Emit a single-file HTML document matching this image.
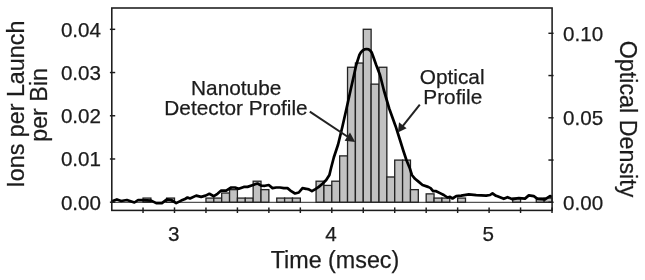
<!DOCTYPE html>
<html><head><meta charset="utf-8"><title>Time of flight profile</title>
<style>
html,body{margin:0;padding:0;background:#fff;}
body{width:645px;height:280px;overflow:hidden;}
svg{display:block;font-family:"Liberation Sans",Arial,Helvetica,sans-serif;fill:#1c1c1c;}
text{stroke:#1c1c1c;stroke-width:0.25px;}
.t20{font-size:20.6px;}
.t23{font-size:23.3px;}
.ann{font-size:20.8px;}
</style></head><body>
<svg width="645" height="280" viewBox="0 0 645 280">
<rect x="0" y="0" width="645" height="280" fill="#ffffff"/>
<g fill="#c2c2c2" stroke="#222" stroke-width="1.3">
<rect x="143.04" y="198.08" width="7.86" height="4.22"/>
<rect x="166.64" y="198.08" width="7.86" height="4.22"/>
<rect x="205.96" y="198.08" width="7.86" height="4.22"/>
<rect x="213.82" y="198.08" width="7.86" height="4.22"/>
<rect x="221.69" y="193.02" width="7.86" height="9.28"/>
<rect x="229.56" y="189.64" width="7.86" height="12.66"/>
<rect x="237.42" y="198.08" width="7.86" height="4.22"/>
<rect x="245.29" y="198.08" width="7.86" height="4.22"/>
<rect x="253.15" y="181.20" width="7.86" height="21.10"/>
<rect x="261.01" y="189.64" width="7.86" height="12.66"/>
<rect x="276.75" y="198.08" width="7.86" height="4.22"/>
<rect x="284.61" y="198.08" width="7.87" height="4.22"/>
<rect x="292.48" y="198.08" width="7.86" height="4.22"/>
<rect x="316.07" y="181.20" width="7.86" height="21.10"/>
<rect x="323.94" y="185.42" width="7.86" height="16.88"/>
<rect x="331.80" y="181.20" width="7.86" height="21.10"/>
<rect x="339.66" y="155.88" width="7.87" height="46.42"/>
<rect x="347.53" y="67.26" width="7.86" height="135.04"/>
<rect x="355.40" y="63.04" width="7.86" height="139.26"/>
<rect x="363.26" y="29.28" width="7.86" height="173.02"/>
<rect x="371.12" y="84.14" width="7.87" height="118.16"/>
<rect x="378.99" y="67.26" width="7.86" height="135.04"/>
<rect x="386.85" y="176.98" width="7.86" height="25.32"/>
<rect x="394.72" y="160.10" width="7.86" height="42.20"/>
<rect x="402.59" y="160.10" width="7.87" height="42.20"/>
<rect x="410.45" y="189.64" width="7.86" height="12.66"/>
<rect x="426.18" y="193.86" width="7.87" height="8.44"/>
<rect x="434.05" y="198.08" width="7.86" height="4.22"/>
<rect x="441.91" y="198.08" width="7.87" height="4.22"/>
<rect x="457.64" y="198.08" width="7.86" height="4.22"/>
<rect x="512.70" y="198.08" width="7.86" height="4.22"/>
<rect x="536.29" y="198.08" width="7.87" height="4.22"/>
<rect x="544.15" y="198.08" width="7.87" height="4.22"/>
</g>
<line x1="111.8" y1="202.3" x2="552.1" y2="202.3" stroke="#2a2a2a" stroke-width="1"/>
<polyline points="111.3,201.6 116.9,199.4 121.2,201.0 126.9,200.0 134.4,202.5 138.1,200.0 142.5,200.2 151.2,200.6 156.2,203.1 161.9,203.1 166.9,199.4 171.2,200.0 176.2,203.1 181.2,200.6 185.0,199.0 187.5,197.5 190.0,198.5 196.2,195.6 201.2,196.9 205.6,195.6 209.4,193.8 213.8,196.2 217.5,193.8 221.2,190.6 226.2,190.6 231.2,187.5 235.0,187.5 238.8,188.8 243.8,186.9 247.5,186.9 253.1,185.0 257.5,183.5 261.2,185.6 265.0,185.8 268.8,185.0 272.5,188.1 276.2,187.5 280.0,187.5 283.8,188.1 287.5,188.1 291.2,191.2 295.0,193.5 298.8,192.5 302.5,188.1 306.2,188.8 308.8,189.4 311.9,191.2 315.0,189.4 318.8,186.9 322.5,183.8 326.2,180.0 329.4,175.0 331.2,167.5 333.8,157.5 338.1,144.5 342.5,126.2 346.4,109.0 350.6,90.0 354.0,75.0 356.2,65.0 359.4,55.0 361.0,52.2 362.7,50.5 364.6,49.4 366.6,49.0 368.6,49.4 370.3,50.6 371.8,52.6 373.1,56.2 376.2,65.0 380.0,75.0 383.8,90.0 389.2,108.5 395.6,126.2 400.0,140.0 403.1,150.0 406.4,160.0 410.0,168.8 411.9,175.0 415.0,178.8 418.8,181.9 422.5,185.0 428.1,186.9 430.6,188.1 433.1,191.2 436.2,191.2 440.0,193.1 443.8,195.0 447.5,197.5 450.0,196.9 452.5,198.5 456.2,196.2 461.2,195.6 468.8,194.4 476.2,195.2 486.2,195.6 490.0,195.0 492.5,193.3 495.6,195.6 497.5,196.2 503.8,198.8 507.5,197.2 512.5,199.2 518.8,198.1 525.0,198.6 528.8,195.4 533.8,196.2 537.5,198.8 545.0,199.4 550.0,196.0 552.0,196.9" fill="none" stroke="#000" stroke-width="2.7" stroke-linejoin="round" stroke-linecap="butt"/>
<rect x="111.8" y="8.0" width="440.3" height="202.4" fill="none" stroke="#1c1c1c" stroke-width="1.55"/>
<g stroke="#1c1c1c" stroke-width="1.45">
<line x1="143.04" y1="207.40" x2="143.04" y2="213.00"/>
<line x1="174.50" y1="207.40" x2="174.50" y2="213.00"/>
<line x1="205.96" y1="207.40" x2="205.96" y2="213.00"/>
<line x1="237.42" y1="207.40" x2="237.42" y2="213.00"/>
<line x1="268.88" y1="207.40" x2="268.88" y2="213.00"/>
<line x1="300.34" y1="207.40" x2="300.34" y2="213.00"/>
<line x1="331.80" y1="207.40" x2="331.80" y2="213.00"/>
<line x1="363.26" y1="207.40" x2="363.26" y2="213.00"/>
<line x1="394.72" y1="207.40" x2="394.72" y2="213.00"/>
<line x1="426.18" y1="207.40" x2="426.18" y2="213.00"/>
<line x1="457.64" y1="207.40" x2="457.64" y2="213.00"/>
<line x1="489.10" y1="207.40" x2="489.10" y2="213.00"/>
<line x1="520.56" y1="207.40" x2="520.56" y2="213.00"/>
<line x1="552.02" y1="207.40" x2="552.02" y2="213.00"/>
<line x1="109.90" y1="202.20" x2="115.20" y2="202.20"/>
<line x1="109.90" y1="158.98" x2="115.20" y2="158.98"/>
<line x1="109.90" y1="115.76" x2="115.20" y2="115.76"/>
<line x1="109.90" y1="72.54" x2="115.20" y2="72.54"/>
<line x1="109.90" y1="29.32" x2="115.20" y2="29.32"/>
<line x1="548.40" y1="202.30" x2="553.60" y2="202.30"/>
<line x1="548.40" y1="160.05" x2="553.60" y2="160.05"/>
<line x1="548.40" y1="117.80" x2="553.60" y2="117.80"/>
<line x1="548.40" y1="75.55" x2="553.60" y2="75.55"/>
<line x1="548.40" y1="33.30" x2="553.60" y2="33.30"/>
</g>
<g stroke="#222" stroke-width="2" fill="#222">
<line x1="309.8" y1="111.7" x2="348" y2="137.0"/>
<polygon points="355.2,141.9 344.6,140.8 350.0,132.5" stroke="none"/>
<line x1="419.8" y1="104.6" x2="402.5" y2="126.4"/>
<polygon points="397.9,132.4 399.0,122.3 406.6,128.3" stroke="none"/>
</g>
<g class="t20">
<text x="101" y="209.50" text-anchor="end">0.00</text>
<text x="101" y="166.28" text-anchor="end">0.01</text>
<text x="101" y="123.06" text-anchor="end">0.02</text>
<text x="101" y="79.84" text-anchor="end">0.03</text>
<text x="101" y="36.62" text-anchor="end">0.04</text>
<text x="563.0" y="209.80">0.00</text>
<text x="563.0" y="125.30">0.05</text>
<text x="563.0" y="40.80">0.10</text>
<text x="173.65" y="240.7" text-anchor="middle">3</text>
<text x="330.95" y="240.7" text-anchor="middle">4</text>
<text x="488.25" y="240.7" text-anchor="middle">5</text>
</g>
<g class="ann" text-anchor="middle">
<text x="236.2" y="94.6">Nanotube</text>
<text x="236" y="114.6">Detector Profile</text>
<text x="452.2" y="83.6">Optical</text>
<text x="452.8" y="104.0">Profile</text>
</g>
<g class="t23" text-anchor="middle">
<text x="335" y="267.5">Time (msec)</text>
<text transform="translate(24,104.2) rotate(-90)">Ions per Launch</text>
<text transform="translate(47,104.9) rotate(-90)">per Bin</text>
<text transform="translate(620,119.0) rotate(90)">Optical Density</text>
</g>
</svg>
</body></html>
